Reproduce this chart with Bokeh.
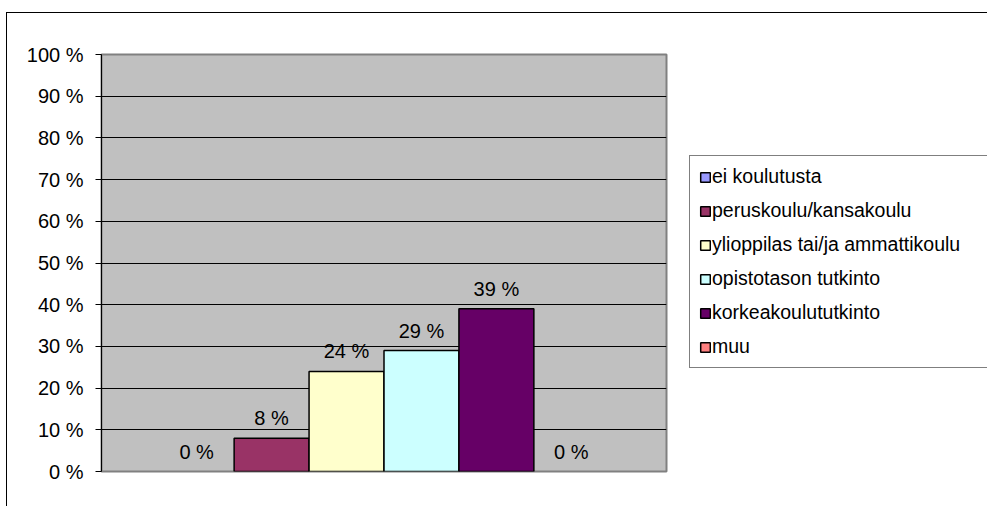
from bokeh.plotting import figure
from bokeh.layouts import row
from bokeh.models import (Range1d, FixedTicker, PrintfTickFormatter, LabelSet,
                          ColumnDataSource, Legend, LegendItem)
from bokeh.core.properties import value
from bokeh.embed import file_html
from bokeh.resources import INLINE

categories = ["ei koulutusta", "peruskoulu/kansakoulu", "ylioppilas tai/ja ammattikoulu",
              "opistotason tutkinto", "korkeakoulututkinto", "muu"]
values = [0, 8, 24, 29, 39, 0]
colors = ["#9999FF", "#993366", "#FFFFCC", "#CCFFFF", "#660066", "#FF8080"]
y_ticks = [0, 10, 20, 30, 40, 50, 60, 70, 80, 90, 100]

FONT = "Liberation Sans"
FS = "20px"

# ---- main chart ----
p = figure(width=673, height=493, output_backend="svg", toolbar_location=None,
           x_range=Range1d(-1.27, 6.27), y_range=Range1d(0, 100),
           min_border_left=94, min_border_right=14, min_border_top=41, min_border_bottom=35)
p.background_fill_color = "#C0C0C0"
p.border_fill_color = "white"
p.outline_line_color = "#808080"
p.outline_line_width = 2

p.xaxis.visible = False
p.xgrid.visible = False
p.ygrid.grid_line_color = "black"
p.ygrid.grid_line_width = 1
p.ygrid.ticker = FixedTicker(ticks=y_ticks)

ya = p.yaxis[0]
ya.ticker = FixedTicker(ticks=y_ticks)
ya.formatter = PrintfTickFormatter(format="%d %%")
ya.axis_line_color = "black"
ya.axis_line_width = 1
ya.major_tick_line_color = "black"
ya.major_tick_out = 6
ya.major_tick_in = 0
ya.minor_tick_line_color = None
ya.major_label_text_font = FONT
ya.major_label_text_font_size = FS
ya.major_label_text_color = "black"
ya.major_label_standoff = 12

for i, (cat, v, c) in enumerate(zip(categories, values, colors)):
    src = ColumnDataSource(dict(x=[i], top=[v]))
    p.vbar(x="x", top="top", bottom=0, width=1.0, source=src, fill_color=c,
           line_color="black" if v > 0 else None, line_width=1.5)

lab_src = ColumnDataSource(dict(x=list(range(len(values))), y=values,
                                text=[f"{v} %" for v in values]))
p.add_layout(LabelSet(x="x", y="y", text="text", source=lab_src, text_align="center",
                      text_baseline="middle", y_offset=20, text_font=value(FONT),
                      text_font_size=value(FS), text_color="black"))

# ---- legend panel (its bars sit behind the opaque legend box; only the legend shows) ----
pl = figure(width=307, height=493, output_backend="svg", toolbar_location=None,
            x_axis_location=None, y_axis_location=None,
            x_range=Range1d(-1, 7), y_range=Range1d(-50, 100),
            min_border_left=0, min_border_right=0, min_border_top=0, min_border_bottom=0)
pl.outline_line_color = None
pl.background_fill_color = "white"
pl.border_fill_color = "white"
pl.xgrid.visible = False
pl.ygrid.visible = False

items = []
for i, (cat, v, c) in enumerate(zip(categories, values, colors)):
    src = ColumnDataSource(dict(x=[i], top=[v]))
    r = pl.vbar(x="x", top="top", bottom=0, width=1.0, source=src, fill_color=c,
                line_color="black", line_width=1.5)
    items.append(LegendItem(label=cat, renderers=[r]))

legend = Legend(items=items, location=(9, 103), border_line_color="black",
                border_line_width=1, background_fill_color="white", background_fill_alpha=1.0,
                label_text_font=FONT, label_text_font_size="19.5px",
                label_text_color="black", glyph_width=12, glyph_height=12,
                label_standoff=1, label_height=23, label_width=266, spacing=11,
                padding=9, margin=0)
pl.add_layout(legend, "center")

layout = row(p, pl, spacing=0)
layout.margin = (12, 0, 0, 6)
layout.styles = {"border-top": "1px solid black", "border-left": "1px solid black"}

open("out.html", "w").write(file_html(layout, INLINE))
